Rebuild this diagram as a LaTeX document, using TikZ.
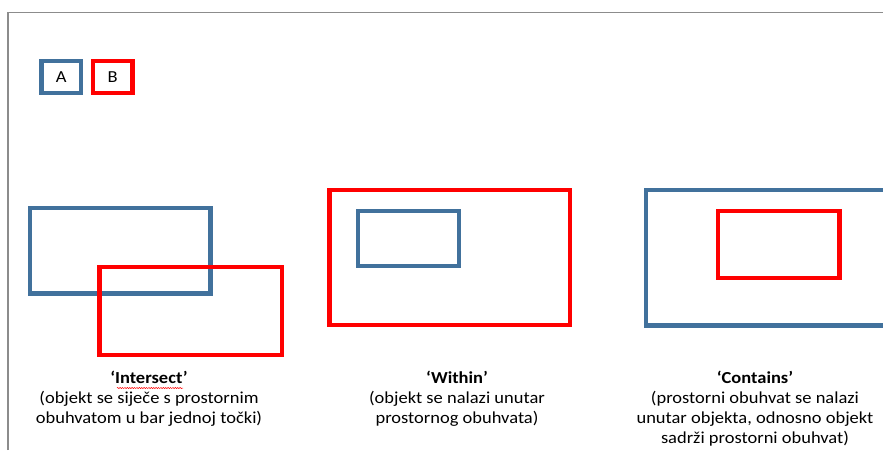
\documentclass[tikz,border=0pt]{standalone}
\usepackage{fontspec}
\setmainfont{Carlito}[FakeStretch=1.1]
\usetikzlibrary{decorations.pathmorphing}
\definecolor{boxblue}{RGB}{65,113,156}
\definecolor{pagegrey}{RGB}{140,140,140}

\begin{document}
\begin{tikzpicture}[x=1pt,y=1pt]
\tikzstyle{every node}+=[inner sep=0pt]
\tikzstyle{objA}=[draw=boxblue, line width=4.3pt]
\tikzstyle{objB}=[draw=red, line width=4.3pt]
\tikzstyle{caption}=[align=center, anchor=base, font=\fontsize{16.8}{20}\selectfont]
\useasboundingbox (0,0) rectangle (883,-450);
\draw [pagegrey, line width=1.6pt] (8,-450) -- (8,-12.5) -- (890,-12.5);
% legend
\draw [objA] (41.5,-61) rectangle (81,-93);
\draw (61.25,-77) node (legA) {\fontsize{16.8}{20}\selectfont A};
\draw [objB] (93,-61) rectangle (132.5,-93);
\draw (112.75,-77) node (legB) {\fontsize{16.8}{20}\selectfont B};
% intersect (base = last line)
\draw [objA] (30,-208) rectangle (210.5,-293.5);
\draw [objB] (99.5,-267) rectangle (282,-355.3);
\draw (149,-423.5) node [caption] (intersect) {\textbf{‘Intersect’}\\(objekt se siječe s prostornim\\obuhvatom u bar jednoj točki)};
\draw [red, line width=0.5pt, decorate, decoration={snake, amplitude=0.6pt, segment length=2.4pt}] (117,-388) -- (183,-388);
% within
\draw [objB] (329.5,-190) rectangle (570,-325.3);
\draw [objA] (358,-211) rectangle (458.7,-266);
\draw (457,-423.5) node [caption] (within) {\textbf{‘Within’}\\(objekt se nalazi unutar\\prostornog obuhvata)};
% contains
\draw [objA] (646,-190.3) rectangle (895,-325.5);
\draw [objB] (718,-211) rectangle (839.5,-278);
\draw (755,-443.5) node [caption] (contains) {\textbf{‘Contains’}\\(prostorni obuhvat se nalazi\\unutar objekta, odnosno objekt\\sadrži prostorni obuhvat)};
\end{tikzpicture}
\end{document}
